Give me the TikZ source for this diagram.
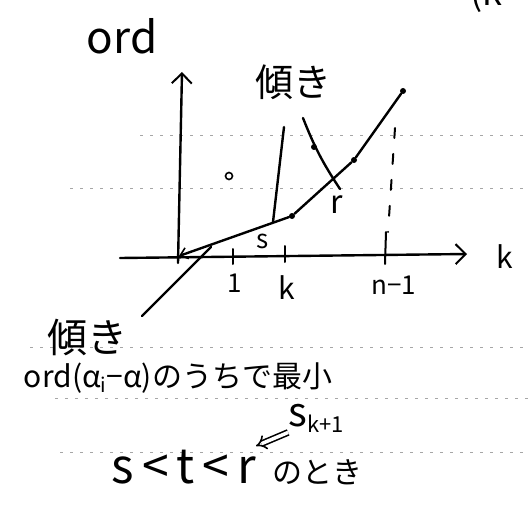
\documentclass[tikz,border=0pt]{standalone}
\usepackage{fontspec}
\setmainfont{Noto Sans CJK JP}
\usepackage{tikz}
\usetikzlibrary{arrows.meta}
\newcommand{\sublow}[2]{\raisebox{-0.35\height}{\fontsize{#1}{#1}\selectfont #2}}
\tikzset{
  ink/.style={line width=2.4pt, line cap=round, line join=round},
  axis/.style={ink, -{Straight Barb[length=3.5mm,width=7mm,line width=2pt]}},
  tick/.style={line width=2pt, line cap=round},
  guide/.style={line width=2pt, line cap=round, dash pattern=on 10pt off 16pt},
  rule/.style={black!35, line width=0.7pt, dash pattern=on 3pt off 7pt},
  dot/.style={circle, fill=black, minimum size=6pt, inner sep=0pt},
  hole/.style={circle, draw=black, line width=1.6pt, minimum width=7pt, minimum height=5pt, inner sep=0pt},
  hand/.style={inner sep=0pt, font=\fontsize{#1}{#1}\selectfont},
  hand/.default=28,
  implies/.style={double, double distance=3.5pt, line width=1.6pt, -{Implies}}
}
\begin{document}
\begin{tikzpicture}[x=1pt,y=-1pt]
\useasboundingbox (0,0) rectangle (529,505);
\clip (0,0) rectangle (529,505);
\draw[rule] (140,135) -- (529,135);
\draw[rule] (70,188) -- (529,188);
\draw[rule] (30,347) -- (529,347);
\draw[rule] (55,398) -- (529,398);
\draw[rule] (60,452) -- (529,452);
\node[hand=44] (ord) at (122,36) {ord};
\node[hand=36, anchor=south west] (kcut) at (470,13) {(k};
\coordinate (yb) at (178,263);
\coordinate (yt) at (182,72);
\coordinate (xl) at (120,258);
\coordinate (xr) at (467,254);
\draw[axis] (yb) -- (yt);
\draw[axis] (xl) -- (xr);
\node[hand=30] (klab) at (505,257) {k};
\coordinate (o) at (179,256);
\node[dot] (p1) at (292,216) {};
\node[dot] (p2) at (354,160) {};
\node[dot] (p3) at (403,91) {};
\draw[ink, {Straight Barb[length=2.5mm,width=4mm,line width=1.6pt]}-] (o) -- (p1);
\draw[ink] (p1) -- (p2) -- (p3);
\draw[tick] (233,249) -- (233,264);
\draw[tick] (285,246) -- (285,262);
\draw[tick] (386,232) -- (385,264);
\draw[guide] (395,128) -- (388,232);
\node[hand=26] (t1) at (235,283) {1};
\node[hand=30] (tk) at (287,288) {k};
\node[hand=26] (tn) at (394,285) {n−1};
\coordinate (a1) at (142,316);
\coordinate (a2) at (211,247);
\draw[ink] (a1) -- (a2);
\coordinate (b1) at (273,222);
\coordinate (b2) at (284,127);
\draw[ink] (b1) -- (b2);
\coordinate (c1) at (303,118);
\coordinate (c2) at (340,189);
\draw[ink] (c1) to[bend right=6] (c2);
\node[dot] (q) at (314,147) {};
\node[hole] (h) at (229,176) {};
\node[hand=26] (slab) at (263,241) {s};
\node[hand=32] (rlab) at (337,205) {r};
\node[hand=38] (slope1) at (293,82) {傾き};
\node[hand=40] (slope2) at (87,337) {傾き};
\node[hand=30] (minord) at (178,378) {ord(α\sublow{20}{i}−α)のうちで最小};
\node[hand=40] (sk) at (316,418) {s\sublow{22}{k+1}};
\node[hand=30] (cond) at (237,468) {{\fontsize{48}{48}\selectfont s\,<\,t\,<\,r}\hspace{16pt}のとき};
\coordinate (tip) at (256,446);
\draw[implies] (sk.south west) -- (tip);
\end{tikzpicture}
\end{document}
